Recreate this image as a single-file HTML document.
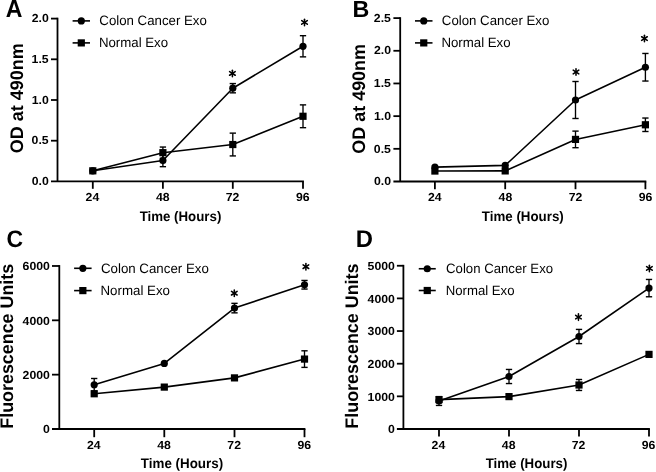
<!DOCTYPE html>
<html><head><meta charset="utf-8"><title>Figure</title>
<style>
html,body{margin:0;padding:0;background:#fff;}
body{width:656px;height:472px;overflow:hidden;}
svg{display:block;filter:grayscale(1) blur(0.3px);}
text{font-family:"Liberation Sans", sans-serif;fill:#000;text-rendering:geometricPrecision;}
</style></head><body>
<svg width="656" height="472" viewBox="0 0 656 472">
<rect width="656" height="472" fill="#fff"/>
<text transform="translate(5.72,17.40) scale(0.9354,1)" font-size="24.7" font-weight="bold">A</text>
<line x1="57.50" y1="17.70" x2="57.50" y2="181.40" stroke="#000" stroke-width="1.8"/>
<line x1="51.00" y1="181.40" x2="303.90" y2="181.40" stroke="#000" stroke-width="1.8"/>
<text transform="translate(31.73,185.05) scale(1.0500,1)" font-size="11.7" font-weight="bold">0.0</text>
<line x1="51.00" y1="140.70" x2="57.50" y2="140.70" stroke="#000" stroke-width="1.8"/>
<text transform="translate(31.56,144.35) scale(1.0500,1)" font-size="11.7" font-weight="bold">0.5</text>
<line x1="51.00" y1="100.00" x2="57.50" y2="100.00" stroke="#000" stroke-width="1.8"/>
<text transform="translate(31.73,103.65) scale(1.0500,1)" font-size="11.7" font-weight="bold">1.0</text>
<line x1="51.00" y1="59.30" x2="57.50" y2="59.30" stroke="#000" stroke-width="1.8"/>
<text transform="translate(31.56,62.95) scale(1.0500,1)" font-size="11.7" font-weight="bold">1.5</text>
<line x1="51.00" y1="18.60" x2="57.50" y2="18.60" stroke="#000" stroke-width="1.8"/>
<text transform="translate(31.73,22.25) scale(1.0500,1)" font-size="11.7" font-weight="bold">2.0</text>
<line x1="92.80" y1="181.40" x2="92.80" y2="188.80" stroke="#000" stroke-width="1.8"/>
<text transform="translate(85.59,201.10) scale(1.0500,1)" font-size="11.7" font-weight="bold">24</text>
<line x1="162.90" y1="181.40" x2="162.90" y2="188.80" stroke="#000" stroke-width="1.8"/>
<text transform="translate(155.96,201.10) scale(1.0500,1)" font-size="11.7" font-weight="bold">48</text>
<line x1="232.80" y1="181.40" x2="232.80" y2="188.80" stroke="#000" stroke-width="1.8"/>
<text transform="translate(225.75,201.10) scale(1.0500,1)" font-size="11.7" font-weight="bold">72</text>
<line x1="303.00" y1="181.40" x2="303.00" y2="188.80" stroke="#000" stroke-width="1.8"/>
<text transform="translate(295.98,201.10) scale(1.0500,1)" font-size="11.7" font-weight="bold">96</text>
<text transform="translate(139.65,221.00) scale(0.9625,1)" font-size="13.8" font-weight="bold">Time (Hours)</text>
<text transform="translate(23.10,153.24) rotate(-90) scale(0.9882,1)" font-size="18.2" font-weight="bold">OD at 490nm</text>
<line x1="72.60" y1="20.90" x2="90.00" y2="20.90" stroke="#000" stroke-width="1.6"/>
<circle cx="81.30" cy="20.9" r="3.6"/>
<line x1="72.60" y1="42.90" x2="90.00" y2="42.90" stroke="#000" stroke-width="1.6"/>
<rect x="77.70" y="39.30" width="7.2" height="7.2"/>
<text transform="translate(99.33,25.40) scale(0.9810,1)" font-size="13.5">Colon Cancer Exo</text>
<text transform="translate(98.91,47.40) scale(0.9810,1)" font-size="13.5">Normal Exo</text>
<line x1="162.90" y1="154.46" x2="162.90" y2="166.67" stroke="#000" stroke-width="1.35"/>
<line x1="159.75" y1="154.46" x2="166.05" y2="154.46" stroke="#000" stroke-width="1.4"/>
<line x1="159.75" y1="166.67" x2="166.05" y2="166.67" stroke="#000" stroke-width="1.4"/>
<line x1="232.80" y1="83.56" x2="232.80" y2="92.84" stroke="#000" stroke-width="1.35"/>
<line x1="229.65" y1="83.56" x2="235.95" y2="83.56" stroke="#000" stroke-width="1.4"/>
<line x1="229.65" y1="92.84" x2="235.95" y2="92.84" stroke="#000" stroke-width="1.4"/>
<line x1="303.00" y1="35.69" x2="303.00" y2="56.86" stroke="#000" stroke-width="1.35"/>
<line x1="299.85" y1="35.69" x2="306.15" y2="35.69" stroke="#000" stroke-width="1.4"/>
<line x1="299.85" y1="56.86" x2="306.15" y2="56.86" stroke="#000" stroke-width="1.4"/>
<polyline fill="none" stroke="#000" stroke-width="1.6" stroke-linejoin="round" points="92.80,170.82 162.90,160.56 232.80,88.20 303.00,46.28"/>
<circle cx="92.80" cy="170.82" r="3.6"/>
<circle cx="162.90" cy="160.56" r="3.6"/>
<circle cx="232.80" cy="88.20" r="3.6"/>
<circle cx="303.00" cy="46.28" r="3.6"/>
<line x1="162.90" y1="147.05" x2="162.90" y2="158.28" stroke="#000" stroke-width="1.35"/>
<line x1="159.75" y1="147.05" x2="166.05" y2="147.05" stroke="#000" stroke-width="1.4"/>
<line x1="159.75" y1="158.28" x2="166.05" y2="158.28" stroke="#000" stroke-width="1.4"/>
<line x1="232.80" y1="133.13" x2="232.80" y2="155.92" stroke="#000" stroke-width="1.35"/>
<line x1="229.65" y1="133.13" x2="235.95" y2="133.13" stroke="#000" stroke-width="1.4"/>
<line x1="229.65" y1="155.92" x2="235.95" y2="155.92" stroke="#000" stroke-width="1.4"/>
<line x1="303.00" y1="104.88" x2="303.00" y2="127.68" stroke="#000" stroke-width="1.35"/>
<line x1="299.85" y1="104.88" x2="306.15" y2="104.88" stroke="#000" stroke-width="1.4"/>
<line x1="299.85" y1="127.68" x2="306.15" y2="127.68" stroke="#000" stroke-width="1.4"/>
<polyline fill="none" stroke="#000" stroke-width="1.6" stroke-linejoin="round" points="92.80,170.82 162.90,152.67 232.80,144.53 303.00,116.28"/>
<rect x="89.20" y="167.22" width="7.2" height="7.2"/>
<rect x="159.30" y="149.07" width="7.2" height="7.2"/>
<rect x="229.20" y="140.93" width="7.2" height="7.2"/>
<rect x="299.40" y="112.68" width="7.2" height="7.2"/>
<g stroke="#000" stroke-width="1.55" stroke-linecap="round"><line x1="232.40" y1="70.20" x2="232.40" y2="76.70"/><line x1="229.59" y1="71.63" x2="235.21" y2="75.27"/><line x1="235.21" y1="71.63" x2="229.59" y2="75.27"/></g>
<circle cx="232.40" cy="73.45" r="1.3"/>
<g stroke="#000" stroke-width="1.55" stroke-linecap="round"><line x1="304.50" y1="19.15" x2="304.50" y2="25.65"/><line x1="301.69" y1="20.58" x2="307.31" y2="24.22"/><line x1="307.31" y1="20.58" x2="301.69" y2="24.22"/></g>
<circle cx="304.50" cy="22.40" r="1.3"/>
<text transform="translate(352.44,16.95) scale(0.9950,1)" font-size="23.4" font-weight="bold">B</text>
<line x1="400.20" y1="17.20" x2="400.20" y2="181.50" stroke="#000" stroke-width="1.8"/>
<line x1="393.40" y1="181.50" x2="646.30" y2="181.50" stroke="#000" stroke-width="1.8"/>
<text transform="translate(374.03,185.20) scale(1.0500,1)" font-size="11.7" font-weight="bold">0.0</text>
<line x1="393.40" y1="148.82" x2="400.20" y2="148.82" stroke="#000" stroke-width="1.8"/>
<text transform="translate(373.86,152.52) scale(1.0500,1)" font-size="11.7" font-weight="bold">0.5</text>
<line x1="393.40" y1="116.14" x2="400.20" y2="116.14" stroke="#000" stroke-width="1.8"/>
<text transform="translate(374.03,119.84) scale(1.0500,1)" font-size="11.7" font-weight="bold">1.0</text>
<line x1="393.40" y1="83.46" x2="400.20" y2="83.46" stroke="#000" stroke-width="1.8"/>
<text transform="translate(373.86,87.16) scale(1.0500,1)" font-size="11.7" font-weight="bold">1.5</text>
<line x1="393.40" y1="50.78" x2="400.20" y2="50.78" stroke="#000" stroke-width="1.8"/>
<text transform="translate(374.03,54.48) scale(1.0500,1)" font-size="11.7" font-weight="bold">2.0</text>
<line x1="393.40" y1="18.10" x2="400.20" y2="18.10" stroke="#000" stroke-width="1.8"/>
<text transform="translate(373.86,21.80) scale(1.0500,1)" font-size="11.7" font-weight="bold">2.5</text>
<line x1="434.90" y1="181.50" x2="434.90" y2="189.20" stroke="#000" stroke-width="1.8"/>
<text transform="translate(427.99,201.40) scale(1.0500,1)" font-size="11.7" font-weight="bold">24</text>
<line x1="505.20" y1="181.50" x2="505.20" y2="189.20" stroke="#000" stroke-width="1.8"/>
<text transform="translate(498.56,201.40) scale(1.0500,1)" font-size="11.7" font-weight="bold">48</text>
<line x1="575.50" y1="181.50" x2="575.50" y2="189.20" stroke="#000" stroke-width="1.8"/>
<text transform="translate(568.75,201.40) scale(1.0500,1)" font-size="11.7" font-weight="bold">72</text>
<line x1="645.40" y1="181.50" x2="645.40" y2="189.20" stroke="#000" stroke-width="1.8"/>
<text transform="translate(638.68,201.40) scale(1.0500,1)" font-size="11.7" font-weight="bold">96</text>
<text transform="translate(481.85,221.00) scale(0.9660,1)" font-size="13.8" font-weight="bold">Time (Hours)</text>
<text transform="translate(365.00,153.74) rotate(-90) scale(0.9873,1)" font-size="18.2" font-weight="bold">OD at 490nm</text>
<line x1="415.00" y1="20.90" x2="432.50" y2="20.90" stroke="#000" stroke-width="1.6"/>
<circle cx="423.75" cy="20.9" r="3.6"/>
<line x1="415.00" y1="42.90" x2="432.50" y2="42.90" stroke="#000" stroke-width="1.6"/>
<rect x="420.15" y="39.30" width="7.2" height="7.2"/>
<text transform="translate(441.83,25.40) scale(0.9810,1)" font-size="13.5">Colon Cancer Exo</text>
<text transform="translate(441.41,47.40) scale(0.9810,1)" font-size="13.5">Normal Exo</text>
<line x1="575.50" y1="81.50" x2="575.50" y2="118.49" stroke="#000" stroke-width="1.35"/>
<line x1="572.35" y1="81.50" x2="578.65" y2="81.50" stroke="#000" stroke-width="1.4"/>
<line x1="572.35" y1="118.49" x2="578.65" y2="118.49" stroke="#000" stroke-width="1.4"/>
<line x1="645.40" y1="53.46" x2="645.40" y2="81.04" stroke="#000" stroke-width="1.35"/>
<line x1="642.25" y1="53.46" x2="648.55" y2="53.46" stroke="#000" stroke-width="1.4"/>
<line x1="642.25" y1="81.04" x2="648.55" y2="81.04" stroke="#000" stroke-width="1.4"/>
<polyline fill="none" stroke="#000" stroke-width="1.6" stroke-linejoin="round" points="434.90,167.12 505.20,165.42 575.50,100.00 645.40,67.25"/>
<circle cx="434.90" cy="167.12" r="3.6"/>
<circle cx="505.20" cy="165.42" r="3.6"/>
<circle cx="575.50" cy="100.00" r="3.6"/>
<circle cx="645.40" cy="67.25" r="3.6"/>
<line x1="575.50" y1="131.11" x2="575.50" y2="147.71" stroke="#000" stroke-width="1.35"/>
<line x1="572.35" y1="131.11" x2="578.65" y2="131.11" stroke="#000" stroke-width="1.4"/>
<line x1="572.35" y1="147.71" x2="578.65" y2="147.71" stroke="#000" stroke-width="1.4"/>
<line x1="645.40" y1="118.04" x2="645.40" y2="131.50" stroke="#000" stroke-width="1.35"/>
<line x1="642.25" y1="118.04" x2="648.55" y2="118.04" stroke="#000" stroke-width="1.4"/>
<line x1="642.25" y1="131.50" x2="648.55" y2="131.50" stroke="#000" stroke-width="1.4"/>
<polyline fill="none" stroke="#000" stroke-width="1.6" stroke-linejoin="round" points="434.90,171.04 505.20,170.91 575.50,139.41 645.40,124.77"/>
<rect x="431.30" y="167.44" width="7.2" height="7.2"/>
<rect x="501.60" y="167.31" width="7.2" height="7.2"/>
<rect x="571.90" y="135.81" width="7.2" height="7.2"/>
<rect x="641.80" y="121.17" width="7.2" height="7.2"/>
<g stroke="#000" stroke-width="1.55" stroke-linecap="round"><line x1="576.00" y1="68.75" x2="576.00" y2="75.25"/><line x1="573.19" y1="70.18" x2="578.81" y2="73.82"/><line x1="578.81" y1="70.18" x2="573.19" y2="73.82"/></g>
<circle cx="576.00" cy="72.00" r="1.3"/>
<g stroke="#000" stroke-width="1.55" stroke-linecap="round"><line x1="644.45" y1="35.30" x2="644.45" y2="41.80"/><line x1="641.64" y1="36.73" x2="647.26" y2="40.37"/><line x1="647.26" y1="36.73" x2="641.64" y2="40.37"/></g>
<circle cx="644.45" cy="38.55" r="1.3"/>
<text transform="translate(6.56,246.90) scale(0.9640,1)" font-size="23.8" font-weight="bold">C</text>
<line x1="59.30" y1="265.08" x2="59.30" y2="429.00" stroke="#000" stroke-width="1.8"/>
<line x1="52.00" y1="429.00" x2="305.40" y2="429.00" stroke="#000" stroke-width="1.8"/>
<text transform="translate(43.07,433.20) scale(1.0500,1)" font-size="11.7" font-weight="bold">0</text>
<line x1="52.00" y1="374.66" x2="59.30" y2="374.66" stroke="#000" stroke-width="1.8"/>
<text transform="translate(22.57,378.86) scale(1.0500,1)" font-size="11.7" font-weight="bold">2000</text>
<line x1="52.00" y1="320.32" x2="59.30" y2="320.32" stroke="#000" stroke-width="1.8"/>
<text transform="translate(22.57,324.52) scale(1.0500,1)" font-size="11.7" font-weight="bold">4000</text>
<line x1="52.00" y1="265.98" x2="59.30" y2="265.98" stroke="#000" stroke-width="1.8"/>
<text transform="translate(22.57,270.18) scale(1.0500,1)" font-size="11.7" font-weight="bold">6000</text>
<line x1="94.20" y1="429.00" x2="94.20" y2="437.20" stroke="#000" stroke-width="1.8"/>
<text transform="translate(86.89,448.75) scale(1.0500,1)" font-size="11.7" font-weight="bold">24</text>
<line x1="164.30" y1="429.00" x2="164.30" y2="437.20" stroke="#000" stroke-width="1.8"/>
<text transform="translate(157.26,448.75) scale(1.0500,1)" font-size="11.7" font-weight="bold">48</text>
<line x1="234.50" y1="429.00" x2="234.50" y2="437.20" stroke="#000" stroke-width="1.8"/>
<text transform="translate(227.35,448.75) scale(1.0500,1)" font-size="11.7" font-weight="bold">72</text>
<line x1="304.50" y1="429.00" x2="304.50" y2="437.20" stroke="#000" stroke-width="1.8"/>
<text transform="translate(297.38,448.75) scale(1.0500,1)" font-size="11.7" font-weight="bold">96</text>
<text transform="translate(140.85,468.00) scale(0.9696,1)" font-size="13.8" font-weight="bold">Time (Hours)</text>
<text transform="translate(12.70,428.70) rotate(-90) scale(0.9829,1)" font-size="18.2" font-weight="bold">Fluorescence Units</text>
<line x1="74.10" y1="268.30" x2="91.60" y2="268.30" stroke="#000" stroke-width="1.6"/>
<circle cx="82.85" cy="268.3" r="3.6"/>
<line x1="74.10" y1="290.60" x2="91.60" y2="290.60" stroke="#000" stroke-width="1.6"/>
<rect x="79.25" y="287.00" width="7.2" height="7.2"/>
<text transform="translate(100.92,273.00) scale(0.9852,1)" font-size="13.5">Colon Cancer Exo</text>
<text transform="translate(100.51,295.00) scale(0.9852,1)" font-size="13.5">Normal Exo</text>
<line x1="94.20" y1="378.49" x2="94.20" y2="390.99" stroke="#000" stroke-width="1.35"/>
<line x1="91.05" y1="378.49" x2="97.35" y2="378.49" stroke="#000" stroke-width="1.4"/>
<line x1="91.05" y1="390.99" x2="97.35" y2="390.99" stroke="#000" stroke-width="1.4"/>
<line x1="234.50" y1="303.34" x2="234.50" y2="312.85" stroke="#000" stroke-width="1.35"/>
<line x1="231.35" y1="303.34" x2="237.65" y2="303.34" stroke="#000" stroke-width="1.4"/>
<line x1="231.35" y1="312.85" x2="237.65" y2="312.85" stroke="#000" stroke-width="1.4"/>
<line x1="304.50" y1="280.46" x2="304.50" y2="289.05" stroke="#000" stroke-width="1.35"/>
<line x1="301.35" y1="280.46" x2="307.65" y2="280.46" stroke="#000" stroke-width="1.4"/>
<line x1="301.35" y1="289.05" x2="307.65" y2="289.05" stroke="#000" stroke-width="1.4"/>
<polyline fill="none" stroke="#000" stroke-width="1.6" stroke-linejoin="round" points="94.20,384.74 164.30,363.41 234.50,308.09 304.50,284.75"/>
<circle cx="94.20" cy="384.74" r="3.6"/>
<circle cx="164.30" cy="363.41" r="3.6"/>
<circle cx="234.50" cy="308.09" r="3.6"/>
<circle cx="304.50" cy="284.75" r="3.6"/>
<line x1="304.50" y1="350.80" x2="304.50" y2="367.38" stroke="#000" stroke-width="1.35"/>
<line x1="301.35" y1="350.80" x2="307.65" y2="350.80" stroke="#000" stroke-width="1.4"/>
<line x1="301.35" y1="367.38" x2="307.65" y2="367.38" stroke="#000" stroke-width="1.4"/>
<polyline fill="none" stroke="#000" stroke-width="1.6" stroke-linejoin="round" points="94.20,393.76 164.30,387.10 234.50,377.89 304.50,359.09"/>
<rect x="90.60" y="390.16" width="7.2" height="7.2"/>
<rect x="160.70" y="383.50" width="7.2" height="7.2"/>
<rect x="230.90" y="374.29" width="7.2" height="7.2"/>
<rect x="300.90" y="355.49" width="7.2" height="7.2"/>
<g stroke="#000" stroke-width="1.55" stroke-linecap="round"><line x1="234.30" y1="289.95" x2="234.30" y2="296.45"/><line x1="231.49" y1="291.38" x2="237.11" y2="295.02"/><line x1="237.11" y1="291.38" x2="231.49" y2="295.02"/></g>
<circle cx="234.30" cy="293.20" r="1.3"/>
<g stroke="#000" stroke-width="1.55" stroke-linecap="round"><line x1="305.90" y1="263.45" x2="305.90" y2="269.95"/><line x1="303.09" y1="264.88" x2="308.71" y2="268.52"/><line x1="308.71" y1="264.88" x2="303.09" y2="268.52"/></g>
<circle cx="305.90" cy="266.70" r="1.3"/>
<text transform="translate(355.81,247.00) scale(0.9878,1)" font-size="24.1" font-weight="bold">D</text>
<line x1="403.40" y1="264.85" x2="403.40" y2="429.00" stroke="#000" stroke-width="1.8"/>
<line x1="396.90" y1="429.00" x2="649.90" y2="429.00" stroke="#000" stroke-width="1.8"/>
<text transform="translate(388.07,433.20) scale(1.0500,1)" font-size="11.7" font-weight="bold">0</text>
<line x1="396.90" y1="396.35" x2="403.40" y2="396.35" stroke="#000" stroke-width="1.8"/>
<text transform="translate(367.57,400.55) scale(1.0500,1)" font-size="11.7" font-weight="bold">1000</text>
<line x1="396.90" y1="363.70" x2="403.40" y2="363.70" stroke="#000" stroke-width="1.8"/>
<text transform="translate(367.57,367.90) scale(1.0500,1)" font-size="11.7" font-weight="bold">2000</text>
<line x1="396.90" y1="331.05" x2="403.40" y2="331.05" stroke="#000" stroke-width="1.8"/>
<text transform="translate(367.57,335.25) scale(1.0500,1)" font-size="11.7" font-weight="bold">3000</text>
<line x1="396.90" y1="298.40" x2="403.40" y2="298.40" stroke="#000" stroke-width="1.8"/>
<text transform="translate(367.57,302.60) scale(1.0500,1)" font-size="11.7" font-weight="bold">4000</text>
<line x1="396.90" y1="265.75" x2="403.40" y2="265.75" stroke="#000" stroke-width="1.8"/>
<text transform="translate(367.57,269.95) scale(1.0500,1)" font-size="11.7" font-weight="bold">5000</text>
<line x1="439.00" y1="429.00" x2="439.00" y2="436.40" stroke="#000" stroke-width="1.8"/>
<text transform="translate(431.59,448.80) scale(1.0500,1)" font-size="11.7" font-weight="bold">24</text>
<line x1="509.00" y1="429.00" x2="509.00" y2="436.40" stroke="#000" stroke-width="1.8"/>
<text transform="translate(501.86,448.80) scale(1.0500,1)" font-size="11.7" font-weight="bold">48</text>
<line x1="579.00" y1="429.00" x2="579.00" y2="436.40" stroke="#000" stroke-width="1.8"/>
<text transform="translate(571.75,448.80) scale(1.0500,1)" font-size="11.7" font-weight="bold">72</text>
<line x1="649.00" y1="429.00" x2="649.00" y2="436.40" stroke="#000" stroke-width="1.8"/>
<text transform="translate(641.78,448.80) scale(1.0500,1)" font-size="11.7" font-weight="bold">96</text>
<text transform="translate(485.75,468.00) scale(0.9625,1)" font-size="13.8" font-weight="bold">Time (Hours)</text>
<text transform="translate(358.10,428.70) rotate(-90) scale(0.9847,1)" font-size="18.2" font-weight="bold">Fluorescence Units</text>
<line x1="418.75" y1="268.75" x2="435.75" y2="268.75" stroke="#000" stroke-width="1.6"/>
<circle cx="427.25" cy="268.75" r="3.6"/>
<line x1="418.75" y1="290.50" x2="435.75" y2="290.50" stroke="#000" stroke-width="1.6"/>
<rect x="423.65" y="286.90" width="7.2" height="7.2"/>
<text transform="translate(446.08,273.00) scale(0.9764,1)" font-size="13.5">Colon Cancer Exo</text>
<text transform="translate(445.67,295.00) scale(0.9764,1)" font-size="13.5">Normal Exo</text>
<line x1="439.00" y1="396.61" x2="439.00" y2="405.43" stroke="#000" stroke-width="1.35"/>
<line x1="435.85" y1="396.61" x2="442.15" y2="396.61" stroke="#000" stroke-width="1.4"/>
<line x1="435.85" y1="405.43" x2="442.15" y2="405.43" stroke="#000" stroke-width="1.4"/>
<line x1="509.00" y1="369.45" x2="509.00" y2="383.55" stroke="#000" stroke-width="1.35"/>
<line x1="505.85" y1="369.45" x2="512.15" y2="369.45" stroke="#000" stroke-width="1.4"/>
<line x1="505.85" y1="383.55" x2="512.15" y2="383.55" stroke="#000" stroke-width="1.4"/>
<line x1="579.00" y1="329.42" x2="579.00" y2="343.59" stroke="#000" stroke-width="1.35"/>
<line x1="575.85" y1="329.42" x2="582.15" y2="329.42" stroke="#000" stroke-width="1.4"/>
<line x1="575.85" y1="343.59" x2="582.15" y2="343.59" stroke="#000" stroke-width="1.4"/>
<line x1="649.00" y1="279.46" x2="649.00" y2="296.77" stroke="#000" stroke-width="1.35"/>
<line x1="645.85" y1="279.46" x2="652.15" y2="279.46" stroke="#000" stroke-width="1.4"/>
<line x1="645.85" y1="296.77" x2="652.15" y2="296.77" stroke="#000" stroke-width="1.4"/>
<polyline fill="none" stroke="#000" stroke-width="1.6" stroke-linejoin="round" points="439.00,401.02 509.00,376.50 579.00,336.50 649.00,288.12"/>
<circle cx="439.00" cy="401.02" r="3.6"/>
<circle cx="509.00" cy="376.50" r="3.6"/>
<circle cx="579.00" cy="336.50" r="3.6"/>
<circle cx="649.00" cy="288.12" r="3.6"/>
<line x1="579.00" y1="379.50" x2="579.00" y2="390.47" stroke="#000" stroke-width="1.35"/>
<line x1="575.85" y1="379.50" x2="582.15" y2="379.50" stroke="#000" stroke-width="1.4"/>
<line x1="575.85" y1="390.47" x2="582.15" y2="390.47" stroke="#000" stroke-width="1.4"/>
<polyline fill="none" stroke="#000" stroke-width="1.6" stroke-linejoin="round" points="439.00,399.62 509.00,396.61 579.00,384.99 649.00,354.39"/>
<rect x="435.40" y="396.01" width="7.2" height="7.2"/>
<rect x="505.40" y="393.01" width="7.2" height="7.2"/>
<rect x="575.40" y="381.39" width="7.2" height="7.2"/>
<rect x="645.40" y="350.79" width="7.2" height="7.2"/>
<g stroke="#000" stroke-width="1.55" stroke-linecap="round"><line x1="578.45" y1="313.85" x2="578.45" y2="320.35"/><line x1="575.64" y1="315.28" x2="581.26" y2="318.92"/><line x1="581.26" y1="315.28" x2="575.64" y2="318.92"/></g>
<circle cx="578.45" cy="317.10" r="1.3"/>
<g stroke="#000" stroke-width="1.55" stroke-linecap="round"><line x1="649.40" y1="265.15" x2="649.40" y2="271.65"/><line x1="646.59" y1="266.58" x2="652.21" y2="270.22"/><line x1="652.21" y1="266.58" x2="646.59" y2="270.22"/></g>
<circle cx="649.40" cy="268.40" r="1.3"/>
</svg>
</body></html>
